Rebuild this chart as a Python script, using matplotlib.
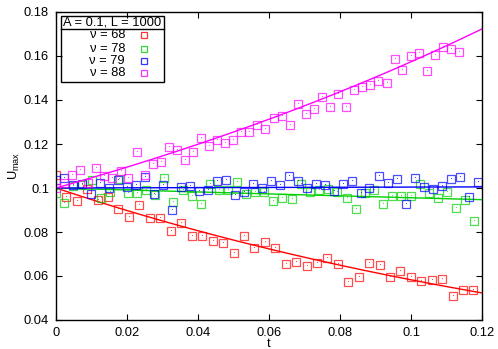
import numpy as np
import matplotlib
matplotlib.use('Agg')
import matplotlib.pyplot as plt
from matplotlib.patches import Rectangle

plt.rcParams['font.family'] = ['Liberation Sans', 'DejaVu Sans']
plt.rcParams['mathtext.default'] = 'regular'
plt.rcParams['font.size'] = 9.3

# values
t_68 = [0.0, 0.0029, 0.0059, 0.0088, 0.0118, 0.0147, 0.0176, 0.0206, 0.0235, 0.0265,
        0.0294, 0.0323, 0.0353, 0.0382, 0.0412, 0.0441, 0.0470, 0.0500, 0.0529, 0.0559,
        0.0588, 0.0617, 0.0647, 0.0676, 0.0706, 0.0735, 0.0764, 0.0794, 0.0823, 0.0853,
        0.0882, 0.0912, 0.0941, 0.0970, 0.1000, 0.1029, 0.1059, 0.1088, 0.1117, 0.1147,
        0.1176]
u_68 = [0.1058, 0.0958, 0.0942, 0.0995, 0.0945, 0.0960, 0.0905, 0.0867, 0.0921, 0.0864,
        0.0864, 0.0806, 0.0839, 0.0782, 0.0783, 0.0760, 0.0751, 0.0705, 0.0783, 0.0729,
        0.0753, 0.0726, 0.0653, 0.0662, 0.0645, 0.0658, 0.0683, 0.0653, 0.0571, 0.0597,
        0.0658, 0.0650, 0.0594, 0.0624, 0.0597, 0.0577, 0.0582, 0.0585, 0.0508, 0.0538,
        0.0538]

t_78 = [0.0, 0.0023, 0.0049, 0.0074, 0.0100, 0.0126, 0.0151, 0.0177, 0.0202, 0.0228,
        0.0254, 0.0279, 0.0305, 0.0330, 0.0357, 0.0382, 0.0408, 0.0434, 0.0460, 0.0485,
        0.0511, 0.0536, 0.0561, 0.0587, 0.0612, 0.0637, 0.0665, 0.0690, 0.0716, 0.0742,
        0.0767, 0.0792, 0.0819, 0.0845, 0.0870, 0.0896, 0.0922, 0.0947, 0.0973, 0.0999,
        0.1024, 0.1051, 0.1076, 0.1102, 0.1128, 0.1153, 0.1178]
u_78 = [0.0976, 0.0930, 0.1009, 0.1014, 0.1036, 0.0953, 0.0980, 0.1041, 0.0979, 0.0979,
        0.0991, 0.0968, 0.1047, 0.0938, 0.0991, 0.0964, 0.0927, 0.1017, 0.0991, 0.0991,
        0.1029, 0.0971, 0.0983, 0.0980, 0.0942, 0.0956, 0.0950, 0.1017, 0.0983, 0.0991,
        0.0995, 0.0983, 0.0953, 0.0903, 0.0976, 0.0991, 0.0926, 0.0965, 0.0964, 0.0965,
        0.1017, 0.0976, 0.0953, 0.0980, 0.0910, 0.0945, 0.0851]

t_79 = [0.0, 0.0023, 0.0049, 0.0074, 0.0098, 0.0124, 0.0149, 0.0176, 0.0199, 0.0225,
        0.0251, 0.0276, 0.0301, 0.0328, 0.0352, 0.0377, 0.0402, 0.0427, 0.0454, 0.0479,
        0.0504, 0.0530, 0.0555, 0.0580, 0.0606, 0.0631, 0.0656, 0.0682, 0.0706, 0.0732,
        0.0758, 0.0782, 0.0808, 0.0834, 0.0859, 0.0883, 0.0909, 0.0934, 0.0960, 0.0985,
        0.1011, 0.1037, 0.1062, 0.1087, 0.1113, 0.1138, 0.1163, 0.1189]
u_79 = [0.1036, 0.1047, 0.1012, 0.1017, 0.0971, 0.1021, 0.1001, 0.1036, 0.1006, 0.1012,
        0.1049, 0.0971, 0.1015, 0.0901, 0.1005, 0.1011, 0.0985, 0.0992, 0.1032, 0.1038,
        0.0968, 0.0980, 0.1020, 0.1000, 0.1032, 0.1015, 0.1055, 0.1032, 0.1001, 0.1018,
        0.1012, 0.0985, 0.1020, 0.1030, 0.0979, 0.1001, 0.1055, 0.1021, 0.1041, 0.0929,
        0.1047, 0.1003, 0.0994, 0.1011, 0.1041, 0.1050, 0.0958, 0.1027]

t_88 = [0.0, 0.0023, 0.0045, 0.0068, 0.0091, 0.0114, 0.0136, 0.0159, 0.0182, 0.0204,
        0.0227, 0.0250, 0.0272, 0.0295, 0.0318, 0.0340, 0.0363, 0.0386, 0.0409, 0.0431,
        0.0454, 0.0477, 0.0499, 0.0522, 0.0545, 0.0567, 0.0590, 0.0613, 0.0636, 0.0658,
        0.0681, 0.0704, 0.0726, 0.0749, 0.0772, 0.0795, 0.0817, 0.0840, 0.0863, 0.0885,
        0.0908, 0.0931, 0.0954, 0.0976, 0.0999, 0.1022, 0.1044, 0.1067, 0.1090, 0.1113,
        0.1135]
u_88 = [0.1000, 0.1024, 0.1060, 0.1082, 0.1021, 0.1090, 0.1055, 0.1047, 0.1077, 0.1047,
        0.1165, 0.1060, 0.1109, 0.1117, 0.1188, 0.1173, 0.1127, 0.1162, 0.1227, 0.1192,
        0.1218, 0.1203, 0.1220, 0.1253, 0.1254, 0.1288, 0.1268, 0.1317, 0.1329, 0.1285,
        0.1383, 0.1336, 0.1359, 0.1414, 0.1370, 0.1427, 0.1367, 0.1445, 0.1460, 0.1468,
        0.1488, 0.1477, 0.1586, 0.1538, 0.1601, 0.1614, 0.1530, 0.1606, 0.1640, 0.1630,
        0.1618]

# exponential fits U = A exp(k t), value of the fit at t = 0.12
A = 0.1
fit_end = [0.0523, 0.0947, 0.1005, 0.1723]

labels = ['ν = 68', 'ν = 78', 'ν = 79', 'ν = 88']
colors = ['#ff0000', '#00d000', '#0000ff', '#ff00ff']
series = [(t_68, u_68), (t_78, u_78), (t_79, u_79), (t_88, u_88)]

fig = plt.figure(figsize=(4.98, 3.49), dpi=100)
ax = fig.add_axes([56/498, 1-320/349, 426/498, 308/349])

tt = np.linspace(0, 0.12, 200)
for (t, u), c, end in zip(series, colors, fit_end):
    ax.plot(t, u, 's', mfc='none', mec=c, ms=6, mew=0.9, alpha=0.7, ls='none')
    ax.plot(t, u, ',', color=c, alpha=0.7)
    k = np.log(end/A)/0.12
    ax.plot(tt, A*np.exp(k*tt), '-', color=c, lw=1.0)

ax.set_xlim(0, 0.12)
ax.set_ylim(0.04, 0.18)
ax.set_xticks([0, 0.02, 0.04, 0.06, 0.08, 0.1, 0.12])
ax.set_xticklabels(['0', '0.02', '0.04', '0.06', '0.08', '0.1', '0.12'])
ax.set_yticks([0.04, 0.06, 0.08, 0.1, 0.12, 0.14, 0.16, 0.18])
ax.set_yticklabels(['0.04', '0.06', '0.08', '0.1', '0.12', '0.14', '0.16', '0.18'])
ax.tick_params(direction='in', length=4, width=0.8, top=True, right=True, pad=5)
for s in ax.spines.values():
    s.set_linewidth(1.0)
ax.set_xlabel('t', labelpad=-1)
ax.set_ylabel('U$_{max}$', labelpad=1)

# gnuplot style key
box_l, box_r, box_t, box_b = 0.011, 0.2535, 0.988, 0.7727
ax.add_patch(Rectangle((box_l, box_b), box_r-box_l, box_t-box_b, transform=ax.transAxes,
                       fill=False, ec='black', lw=1.0, zorder=5))
ax.plot([box_l, box_r], [0.9438, 0.9438], transform=ax.transAxes, color='black', lw=1.0, zorder=5)
ax.text((box_l+box_r)/2, 0.9655, 'A = 0.1, L = 1000', transform=ax.transAxes,
        ha='center', va='center', zorder=6)
key_y = [0.9244, 0.8808, 0.8399, 0.801]
for lab, c, y in zip(labels, colors, key_y):
    ax.text(0.162, y, lab, transform=ax.transAxes, ha='right', va='center', zorder=6)
    ax.plot([0.2073], [y], 's', mfc='none', mec=c, ms=4, mew=0.9, alpha=0.8, transform=ax.transAxes, zorder=6)

fig.savefig('out.png', dpi=100)
